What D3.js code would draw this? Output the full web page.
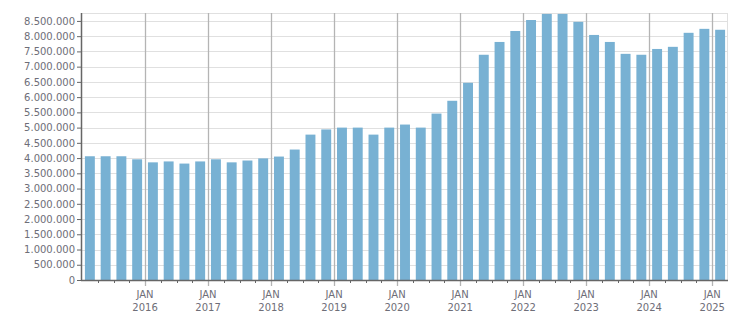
<!DOCTYPE html>
<html>
<head>
<meta charset="utf-8">
<script src="https://cdn.jsdelivr.net/npm/d3@7"></script>
<style>
  body { margin: 0; background: #fff; }
  svg text { font-family: "DejaVu Sans", Verdana, sans-serif; font-size: 10px; fill: #6e6e78; }
</style>
</head>
<body>
<div id="c_plot"></div>
<script>
// quarters from 2015 Q1 to 2025 Q1
var years = [2015, 2016, 2017, 2018, 2019, 2020, 2021, 2022, 2023, 2024, 2025];
var quarters = [];
for (var i = 0; i < years.length; i++)
  for (var q = 1; q <= 4; q++)
    if (years[i] < 2025 || q == 1) quarters.push(years[i] + "-Q" + q);

var values = [
  4060000, 4060000, 4060000, 3960000,
  3860000, 3890000, 3820000, 3890000,
  3960000, 3860000, 3920000, 3990000,
  4050000, 4280000, 4770000, 4940000,
  5000000, 5000000, 4770000, 5000000,
  5100000, 5000000, 5460000, 5880000,
  6470000, 7390000, 7810000, 8170000,
  8530000, 8730000, 8730000, 8470000,
  8040000, 7810000, 7420000, 7390000,
  7580000, 7650000, 8110000, 8240000,
  8210000
];

var yDomain = [0, 8760000];
var yTicks = d3.range(0, 8500001, 500000);

var margin = {top: 13, right: 23, bottom: 33, left: 82};
var width = 751 - margin.left - margin.right, height = 313 - margin.top - margin.bottom;

var svg = d3.select("#c_plot")
  .append("svg")
  .attr("width", 751)
  .attr("height", 313)
  .append("g")
  .attr("transform", "translate(" + margin.left + "," + margin.top + ")");

var x = d3.scaleBand().domain(quarters).range([0, width]).paddingInner(0.37).paddingOuter(0.185);
var y = d3.scaleLinear().domain(yDomain).range([height, 0]);
var step = x.step();
var cellX = d => x(d) - x.paddingOuter() * step; // left edge of the quarter cell

var loc = d3.formatLocale({decimal: ",", thousands: ".", grouping: [3], currency: ["", ""]});
var fmt = loc.format(",d");

// horizontal grid
svg.append("g").selectAll("line").data(yTicks).enter().append("line")
  .attr("x1", 0).attr("x2", width)
  .attr("y1", d => Math.round(y(d)) + 0.5).attr("y2", d => Math.round(y(d)) + 0.5)
  .attr("stroke", "#e0e0e0");

// frame top/right
svg.append("line").attr("x1", 0).attr("x2", width).attr("y1", 0.5).attr("y2", 0.5).attr("stroke", "#e0e0e0");
svg.append("line").attr("x1", width - 0.5).attr("x2", width - 0.5).attr("y1", 0).attr("y2", height).attr("stroke", "#e0e0e0");

// year grid lines
var janQ = quarters.filter(d => d.endsWith("Q1") && d != quarters[0]);
svg.append("g").selectAll("line").data(janQ).enter().append("line")
  .attr("x1", d => Math.round(cellX(d)) + 0.5).attr("x2", d => Math.round(cellX(d)) + 0.5)
  .attr("y1", 0).attr("y2", height + 6)
  .attr("stroke", "#b4b4b4").attr("stroke-width", 1.3);

// bars
svg.append("g").selectAll("rect").data(values).enter().append("rect")
  .attr("x", (d, i) => x(quarters[i]))
  .attr("width", x.bandwidth())
  .attr("y", d => y(d))
  .attr("height", d => height - y(d))
  .attr("fill", "#78b1d3");

// minor ticks on x
var minorQ = quarters.filter(d => !d.endsWith("Q1"));
svg.append("g").selectAll("line").data(minorQ).enter().append("line")
  .attr("x1", d => Math.round(cellX(d)) + 0.5).attr("x2", d => Math.round(cellX(d)) + 0.5)
  .attr("y1", height).attr("y2", height + 3)
  .attr("stroke", "#666");

// y axis
var yAxis = svg.append("g").call(d3.axisLeft(y).tickValues(yTicks).tickFormat(fmt).tickSize(5).tickPadding(2));
yAxis.select(".domain").remove();
yAxis.selectAll(".tick line").attr("stroke", "#666");
yAxis.selectAll("text").style("fill", null).attr("font-family", null).attr("font-size", null);
svg.append("line").attr("x1", -0.5).attr("x2", -0.5).attr("y1", 0).attr("y2", height + 1).attr("stroke", "#666").attr("stroke-width", 1.5);
svg.append("line").attr("x1", -1).attr("x2", width).attr("y1", height + 0.5).attr("y2", height + 0.5).attr("stroke", "#666").attr("stroke-width", 1.5);

// x labels
var lab = svg.append("g").selectAll("text").data(janQ).enter().append("text")
  .attr("x", d => cellX(d))
  .attr("y", height + 18)
  .attr("text-anchor", "middle");
lab.append("tspan").attr("x", d => cellX(d)).text("JAN");
lab.append("tspan").attr("x", d => cellX(d)).attr("dy", 13).text(d => d.slice(0, 4));
</script>
</body>
</html>
